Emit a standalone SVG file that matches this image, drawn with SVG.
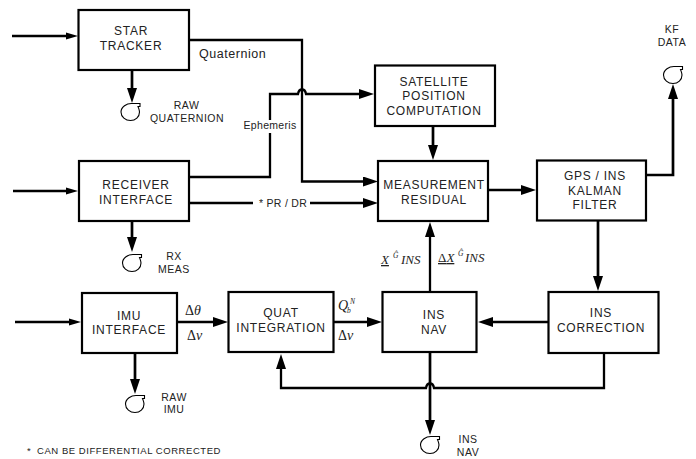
<svg xmlns="http://www.w3.org/2000/svg" width="696" height="459" viewBox="0 0 696 459">
<style>
text{font-family:"Liberation Sans",Arial,sans-serif;fill:#222;text-anchor:middle}
.n{font-size:12px;letter-spacing:.75px}
.s{font-size:10.500px;letter-spacing:.5px}
.f{font-family:"Liberation Serif","Times New Roman",serif;font-size:14px;text-anchor:start}
.m{font-family:"Liberation Serif","Times New Roman",serif;font-style:italic;font-size:13px;text-anchor:start}
.x{font-family:"Liberation Serif","Times New Roman",serif;font-style:italic;font-size:7.500px;text-anchor:start}
.box{fill:#fff;stroke:#000;stroke-width:2.2}
.c{fill:none;stroke:#000;stroke-width:2.3}
.h{fill:none;stroke:#000;stroke-width:2.7}
.t{fill:none;stroke:#000;stroke-width:1.1}
</style>
<defs>
<marker id="a" markerUnits="userSpaceOnUse" markerWidth="15" markerHeight="10" refX="6" refY="5" orient="auto"><path d="M0 0L15 5L0 10Z"/></marker>
<marker id="d" markerUnits="userSpaceOnUse" markerWidth="12" markerHeight="8" refX="5" refY="4" orient="auto"><path d="M0 .5L12 4L0 7.500Z"/></marker>
<g id="tape"><path class="t" d="M9.500 -8.500L2 -8.500C-4 -9 -9.500 -5 -9.500 0C-9.500 5 -5 8.500 0 8.500C5 8.500 9 5 9 0C9 -2 8 -4 7.500 -5.500L9.500 -5.500Z"/></g>
</defs>
<g id="connectors">
<path class="c" d="M12 36H71" marker-end="url(#d)"/>
<path class="h" d="M132 70V94" marker-end="url(#a)"/>
<path class="c" d="M190 40H302V181.500H369" marker-end="url(#a)"/>
<path class="c" d="M187 177H270V133M270 120V94H298C299 88 305 88 306 94H365" marker-end="url(#a)"/>
<path class="c" d="M13 191H71" marker-end="url(#d)"/>
<path class="c" d="M190 203H253M310 203H369" marker-end="url(#a)"/>
<path class="h" d="M132 221V243" marker-end="url(#a)"/>
<path class="h" d="M433 126V151" marker-end="url(#a)"/>
<path class="c" d="M489 190H527" marker-end="url(#a)"/>
<path class="h" d="M647 175H673V93" marker-end="url(#a)"/>
<path class="h" d="M598 220V282" marker-end="url(#a)"/>
<path class="c" d="M15 322H74" marker-end="url(#d)"/>
<path class="h" d="M177 322H219" marker-end="url(#a)"/>
<path class="h" d="M135 353V385" marker-end="url(#a)"/>
<path class="c" d="M334 322H373" marker-end="url(#a)"/>
<path class="c" d="M548 322H487" marker-end="url(#a)"/>
<path class="c" d="M430 292V231" marker-end="url(#a)"/>
<path class="h" d="M430 353V426" marker-end="url(#a)"/>
<path class="c" d="M604 354V388H434C433 382 427 382 426 388H281V363" marker-end="url(#a)"/>
</g>
<g id="star-tracker"><rect class="box" x="78.500" y="10" width="110.500" height="60"/><text class="n" x="131" y="35">STAR</text><text class="n" x="131" y="50">TRACKER</text></g>
<g id="receiver-interface"><rect class="box" x="79" y="161" width="110" height="60"/><text class="n" x="136" y="188.500">RECEIVER</text><text class="n" x="136" y="204">INTERFACE</text></g>
<g id="satellite-position"><rect class="box" x="375" y="65.500" width="120" height="60.500"/><text class="n" x="434" y="86">SATELLITE</text><text class="n" x="434" y="100">POSITION</text><text class="n" x="434" y="115">COMPUTATION</text></g>
<g id="measurement-residual"><rect class="box" x="378" y="161" width="110" height="60"/><text class="n" x="434" y="188.500">MEASUREMENT</text><text class="n" x="434" y="204">RESIDUAL</text></g>
<g id="kalman-filter"><rect class="box" x="537" y="160.500" width="109" height="60"/><text class="n" x="595" y="180">GPS / INS</text><text class="n" x="595" y="194.500">KALMAN</text><text class="n" x="595" y="209">FILTER</text></g>
<g id="imu-interface"><rect class="box" x="82" y="293" width="95" height="60"/><text class="n" x="129" y="320">IMU</text><text class="n" x="129" y="334">INTERFACE</text></g>
<g id="quat-integration"><rect class="box" x="228.500" y="292" width="105" height="60"/><text class="n" x="281" y="317">QUAT</text><text class="n" x="281" y="332">INTEGRATION</text></g>
<g id="ins-nav"><rect class="box" x="382.500" y="292" width="94" height="60"/><text class="n" x="434" y="319">INS</text><text class="n" x="434" y="334">NAV</text></g>
<g id="ins-correction"><rect class="box" x="548.500" y="292" width="110" height="61"/><text class="n" x="601" y="317">INS</text><text class="n" x="601" y="332">CORRECTION</text></g>
<g id="tape-raw-quaternion"><use href="#tape" x="130.500" y="112"/><text class="s" x="186.500" y="109">RAW</text><text class="s" x="187" y="122">QUATERNION</text></g>
<g id="tape-rx-meas"><use href="#tape" x="132" y="263"/><text class="s" x="174" y="260">RX</text><text class="s" x="174" y="273">MEAS</text></g>
<g id="tape-raw-imu"><use href="#tape" x="135" y="404"/><text class="s" x="174" y="401">RAW</text><text class="s" x="174" y="413">IMU</text></g>
<g id="tape-ins-nav"><use href="#tape" x="430" y="445"/><text class="s" x="468" y="443">INS</text><text class="s" x="468" y="456">NAV</text></g>
<g id="tape-kf-data"><use href="#tape" x="673" y="75"/><text class="s" x="672" y="33">KF</text><text class="s" x="672" y="46">DATA</text></g>
<g id="labels">
<text style="font-size:12.500px;letter-spacing:.55px;text-anchor:start" x="199" y="58">Quaternion</text>
<text style="font-size:10.500px;letter-spacing:.3px" x="270" y="129">Ephemeris</text>
<text style="font-size:10.500px;letter-spacing:.3px" x="283" y="207">* PR / DR</text>
<text style="font-size:9.500px;letter-spacing:.55px;text-anchor:start" x="27" y="454">*</text>
<text style="font-size:9.500px;letter-spacing:.55px;text-anchor:start" x="37" y="454">CAN BE DIFFERENTIAL CORRECTED</text>
<text class="f" x="185" y="315">Δ<tspan font-style="italic">θ</tspan></text>
<text class="f" x="187" y="340">Δ<tspan font-style="italic">v</tspan></text>
<text class="f" x="338" y="340">Δ<tspan font-style="italic">v</tspan></text>
<text class="m" x="338" y="310" style="font-size:14px">Q</text><text class="x" x="347" y="312.500">b</text><text class="x" x="350" y="303.500">N</text>
<text class="m" x="381" y="264" style="text-decoration:underline">X</text><text class="x" x="393" y="258">Ĝ</text><text class="m" x="401" y="264">INS</text>
<text class="f" x="438" y="262" style="font-size:13px;text-decoration:underline">Δ<tspan font-style="italic">X</tspan></text><text class="x" x="458" y="256">Ĝ</text><text class="m" x="465" y="262">INS</text>
</g>
</svg>
